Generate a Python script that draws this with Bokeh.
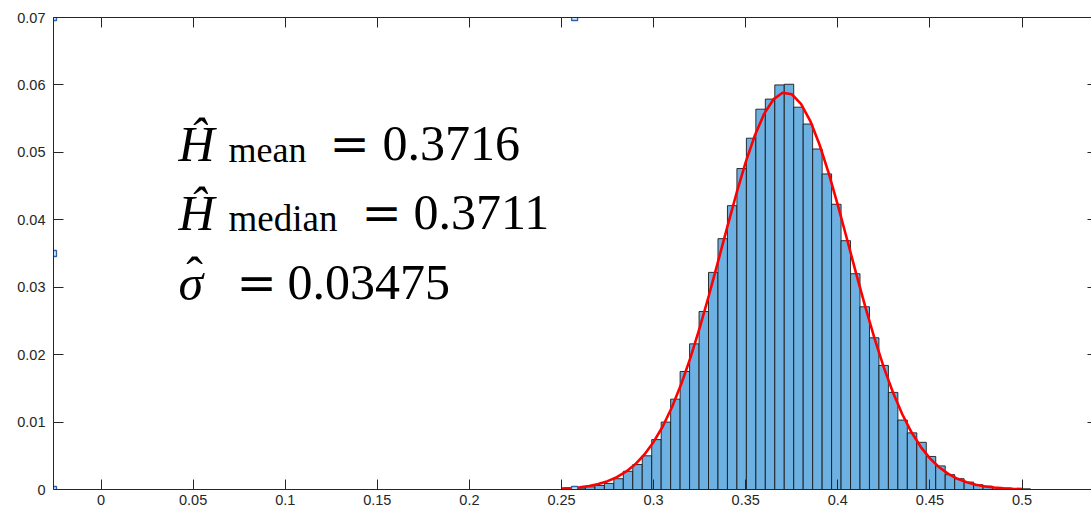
import numpy as np
from bokeh.plotting import figure
from bokeh.models import ColumnDataSource, LinearAxis, FixedTicker, Range1d, Label
from bokeh.embed import file_html
from bokeh.resources import INLINE

# ---------------- data ----------------
bin_start = 0.2527
bin_width = 0.00514
bin_heights = [0.0001, 0.0002, 0.0004, 0.0006, 0.0009, 0.0016, 0.0027, 0.0037,
               0.0050, 0.0074, 0.0100, 0.0134, 0.0175, 0.0216, 0.0264, 0.0322,
               0.0372, 0.0421, 0.0476, 0.0521, 0.0564, 0.0579, 0.0600, 0.0601,
               0.0567, 0.0542, 0.0505, 0.0468, 0.0423, 0.0369, 0.0320, 0.0271,
               0.0225, 0.0184, 0.0144, 0.0103, 0.0084, 0.0070, 0.0049, 0.0035,
               0.0022, 0.0016, 0.0011, 0.0007, 0.0005, 0.0003, 0.0002, 0.0001,
               0.0001]

curve_x = [0.250, 0.255, 0.260, 0.265, 0.270, 0.275, 0.280, 0.285, 0.290, 0.295,
           0.300, 0.305, 0.310, 0.315, 0.320, 0.325, 0.330, 0.335, 0.340, 0.345,
           0.350, 0.355, 0.360, 0.365, 0.370, 0.375, 0.380, 0.385, 0.390, 0.395,
           0.400, 0.405, 0.410, 0.415, 0.420, 0.425, 0.430, 0.435, 0.440, 0.445,
           0.450, 0.455, 0.460, 0.465, 0.470, 0.475, 0.480, 0.485, 0.490, 0.495,
           0.500]
curve_y = [0.00013, 0.00021, 0.00034, 0.00053, 0.00082, 0.00124, 0.00182, 0.00264,
           0.00374, 0.00519, 0.00706, 0.00938, 0.01224, 0.01563, 0.01956, 0.02397,
           0.02877, 0.03383, 0.03895, 0.04394, 0.04855, 0.05255, 0.05571, 0.05785,
           0.05884, 0.05862, 0.05720, 0.05468, 0.05120, 0.04695, 0.04217, 0.03711,
           0.03199, 0.02700, 0.02233, 0.01808, 0.01434, 0.01116, 0.00848, 0.00633,
           0.00462, 0.00330, 0.00232, 0.00159, 0.00107, 0.00070, 0.00045, 0.00029,
           0.00018, 0.00011, 0.00006]

x_ticks = [0, 0.05, 0.1, 0.15, 0.2, 0.25, 0.3, 0.35, 0.4, 0.45, 0.5]
x_tick_labels = ["0", "0.05", "0.1", "0.15", "0.2", "0.25", "0.3", "0.35", "0.4", "0.45", "0.5"]
y_ticks = [0, 0.01, 0.02, 0.03, 0.04, 0.05, 0.06, 0.07]
y_tick_labels = ["0", "0.01", "0.02", "0.03", "0.04", "0.05", "0.06", "0.07"]

mean_label = "mean"
median_label = "median"
mean_value = "0.3716"
median_value = "0.3711"
sigma_value = "0.03475"

# ---------------- layout ----------------
W, H = 1091, 513
FL, FT, FB = 53, 17, 489           # frame left / top / bottom in px
X_LO = -0.0258                     # axes x limit at left
AX_X_HI = 0.54                     # axes x limit at right (beyond window)
PXU = 1842.0                       # px per x unit
X_HI = X_LO + (W - FL) / PXU
Y_LO, Y_HI = 0.0, 0.07
PYU = (FB - FT) / (Y_HI - Y_LO)

def dx(px):
    return X_LO + (px - FL) / PXU

def dy(py):
    return Y_LO + (FB - py) / PYU

p = figure(width=W, height=H, x_range=Range1d(X_LO, X_HI), y_range=Range1d(Y_LO, Y_HI),
           output_backend="svg", toolbar_location=None,
           min_border_left=FL, min_border_right=0, min_border_top=FT,
           min_border_bottom=H - FB)
p.outline_line_color = None
p.grid.visible = False
p.background_fill_color = "white"
p.border_fill_color = "white"

AX_COL = "#262626"

def style_axis(ax, ticks, labels, show_labels, show_line, tick_in, standoff=6):
    ax.ticker = FixedTicker(ticks=ticks)
    ax.major_label_overrides = {t: (l if show_labels else "") for t, l in zip(ticks, labels)}
    ax.major_tick_in = tick_in
    ax.major_tick_out = 0
    ax.minor_tick_line_color = None
    ax.major_tick_line_color = AX_COL
    ax.major_tick_line_width = 1
    ax.axis_line_color = AX_COL if show_line else None
    ax.axis_line_width = 1
    ax.major_label_text_font = "Liberation Sans"
    ax.major_label_text_font_size = "14.5px" if show_labels else "0px"
    ax.major_label_text_color = AX_COL
    ax.major_label_standoff = standoff if show_labels else 0

style_axis(p.xaxis[0], x_ticks, x_tick_labels, True, True, 10, standoff=5)
style_axis(p.yaxis[0], y_ticks, y_tick_labels, True, True, 10, standoff=8)

top_axis = LinearAxis()
style_axis(top_axis, x_ticks, x_tick_labels, False, True, 10)
p.add_layout(top_axis, "above")

right_axis = LinearAxis()
style_axis(right_axis, y_ticks, y_tick_labels, False, False, 4)
p.add_layout(right_axis, "right")

# ---------------- histogram ----------------
n = len(bin_heights)
lefts = [bin_start + i * bin_width for i in range(n)]
rights = [bin_start + (i + 1) * bin_width for i in range(n)]
src = ColumnDataSource(dict(left=lefts, right=rights, top=bin_heights, bottom=[0] * n))
p.quad(left="left", right="right", top="top", bottom="bottom", source=src,
       fill_color="#6DB1E2", line_color="#1a1a1a", line_width=0.9)

# fitted curve
p.line(curve_x, curve_y, line_color="#FF0000", line_width=2.6)

# selection handles (MATLAB edit mode)
xm = (X_LO + AX_X_HI) / 2
p.scatter(x=[X_LO, xm, X_LO, X_LO, xm], y=[Y_HI, Y_HI, (Y_LO + Y_HI) / 2, Y_LO, Y_LO],
          marker="square", size=6, fill_color="#d6e6f5", line_color="#2a64b0", line_width=1.3)

# ---------------- annotation text ----------------
SERIF = "Liberation Serif"
BIG = "50px"
SUB = "36px"

def lab(px, py, text, size, italic=False, align="left", font=SERIF):
    p.add_layout(Label(x=dx(px), y=dy(py), text=text, text_font=font,
                       text_font_size=size, text_font_style="italic" if italic else "normal",
                       text_align=align, text_baseline="alphabetic", text_color="black"))

S = -19  # vertical correction
# line 1
lab(178, 162 + S, "\u0124", BIG, italic=True)
lab(228, 168 + S, mean_label, SUB)
lab(349, 162 + S, "=", "48px", align="center", font="DejaVu Serif")
lab(382, 162 + S, mean_value, BIG)
# line 2
lab(178, 231 + S, "\u0124", BIG, italic=True)
lab(228, 237 + S, median_label, "37px")
lab(381, 231 + S, "=", "48px", align="center", font="DejaVu Serif")
lab(413, 231 + S, median_value, BIG)
# line 3
lab(178, 301 + S, "\u03c3", BIG, italic=True)
lab(194, 293 + S, "\u02c6", BIG, align="center")
lab(256, 301 + S, "=", "48px", align="center", font="DejaVu Serif")
lab(287, 301 + S, sigma_value, BIG)

open("out.html", "w").write(file_html(p, INLINE))
